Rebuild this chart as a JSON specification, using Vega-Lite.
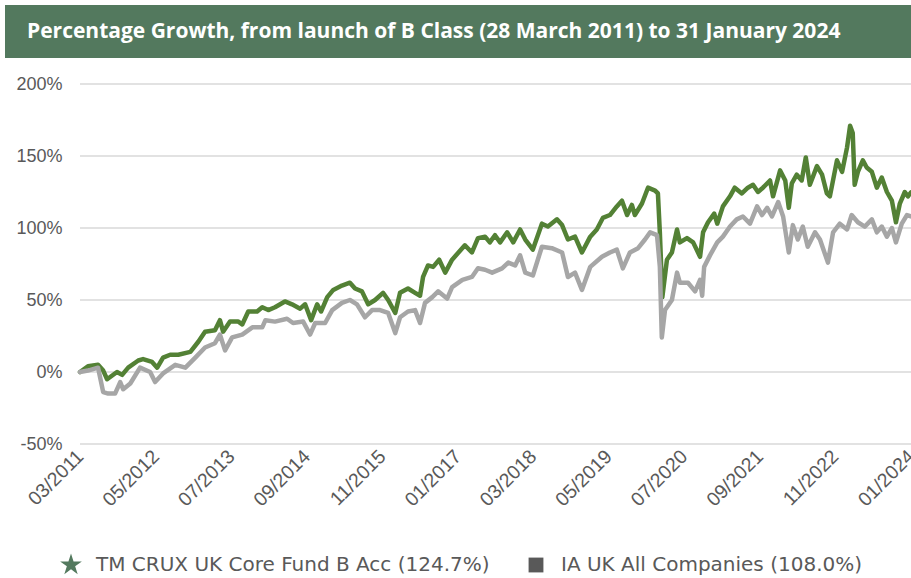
{
  "$schema": "https://vega.github.io/schema/vega-lite/v6.json",
  "padding": {"left": 5, "top": 5, "right": 0, "bottom": 0},
  "background": "#ffffff",
  "spacing": 17,
  "config": {
    "view": {"stroke": null},
    "axisX": {"title": null, "format": "%m/%Y", "labelAngle": -45, "labelAlign": "right", "labelBaseline": "middle", "labelFlush": false, "labelOverlap": false, "domain": false, "ticks": false, "grid": false, "labelFont": "Liberation Sans", "labelFontSize": 19.5, "labelColor": "#595959", "labelPadding": 9},
    "axisY": {"title": null, "labelExpr": "datum.value + '%'", "offset": -75, "domain": false, "ticks": false, "tickSize": 0, "grid": false, "labelFont": "Liberation Sans", "labelFontSize": 18, "labelColor": "#595959", "labelPadding": 18}
  },
  "vconcat": [
    {
      "width": 906,
      "height": 53,
      "view": {"fill": "#53795E", "stroke": null},
      "data": {"values": [{"t": "Percentage Growth, from launch of B Class (28 March 2011) to 31 January 2024"}]},
      "mark": {"type": "text", "align": "left", "baseline": "middle", "color": "#FFFFFF", "font": "Open Sans", "fontSize": 21, "fontWeight": "bold"},
      "encoding": {"text": {"field": "t"}, "x": {"value": 22}, "y": {"value": 27}}
    },
    {
      "width": 906,
      "height": 360,
      "data": {"values": [
        {"d":"2011-03-28","s":"TM","v":0},{"d":"2011-05-12","s":"TM","v":4},{"d":"2011-07-08","s":"TM","v":5},{"d":"2011-08-06","s":"TM","v":1},{"d":"2011-08-28","s":"TM","v":-5},{"d":"2011-10-23","s":"TM","v":0},{"d":"2011-11-21","s":"TM","v":-2},{"d":"2011-12-25","s":"TM","v":3},{"d":"2012-02-20","s":"TM","v":8},{"d":"2012-03-18","s":"TM","v":9},{"d":"2012-05-08","s":"TM","v":7},{"d":"2012-06-06","s":"TM","v":3},{"d":"2012-07-09","s":"TM","v":10},{"d":"2012-08-18","s":"TM","v":12},{"d":"2012-10-03","s":"TM","v":12},{"d":"2012-12-10","s":"TM","v":14},{"d":"2013-01-24","s":"TM","v":21},{"d":"2013-03-03","s":"TM","v":28},{"d":"2013-04-28","s":"TM","v":29},{"d":"2013-05-26","s":"TM","v":36},{"d":"2013-06-13","s":"TM","v":28},{"d":"2013-07-22","s":"TM","v":35},{"d":"2013-09-07","s":"TM","v":35},{"d":"2013-09-29","s":"TM","v":33},{"d":"2013-11-02","s":"TM","v":42},{"d":"2013-12-22","s":"TM","v":42},{"d":"2014-01-20","s":"TM","v":45},{"d":"2014-02-23","s":"TM","v":43},{"d":"2014-04-02","s":"TM","v":45},{"d":"2014-05-28","s":"TM","v":49},{"d":"2014-07-07","s":"TM","v":47},{"d":"2014-08-22","s":"TM","v":44},{"d":"2014-09-19","s":"TM","v":47},{"d":"2014-10-23","s":"TM","v":36},{"d":"2014-11-26","s":"TM","v":47},{"d":"2014-12-18","s":"TM","v":42},{"d":"2015-01-22","s":"TM","v":52},{"d":"2015-02-25","s":"TM","v":57},{"d":"2015-04-15","s":"TM","v":60},{"d":"2015-05-30","s":"TM","v":62},{"d":"2015-06-28","s":"TM","v":58},{"d":"2015-08-06","s":"TM","v":56},{"d":"2015-09-10","s":"TM","v":47},{"d":"2015-10-19","s":"TM","v":50},{"d":"2015-12-03","s":"TM","v":55},{"d":"2016-01-01","s":"TM","v":50},{"d":"2016-02-10","s":"TM","v":41},{"d":"2016-03-08","s":"TM","v":55},{"d":"2016-04-22","s":"TM","v":58},{"d":"2016-06-01","s":"TM","v":55},{"d":"2016-06-29","s":"TM","v":53},{"d":"2016-07-16","s":"TM","v":66},{"d":"2016-08-13","s":"TM","v":74},{"d":"2016-09-11","s":"TM","v":73},{"d":"2016-10-15","s":"TM","v":78},{"d":"2016-11-18","s":"TM","v":69},{"d":"2016-12-27","s":"TM","v":78},{"d":"2017-02-01","s":"TM","v":83},{"d":"2017-03-09","s":"TM","v":88},{"d":"2017-04-18","s":"TM","v":83},{"d":"2017-05-22","s":"TM","v":93},{"d":"2017-07-01","s":"TM","v":94},{"d":"2017-07-28","s":"TM","v":90},{"d":"2017-08-26","s":"TM","v":95},{"d":"2017-09-24","s":"TM","v":90},{"d":"2017-11-03","s":"TM","v":97},{"d":"2017-12-07","s":"TM","v":90},{"d":"2018-01-15","s":"TM","v":99},{"d":"2018-02-13","s":"TM","v":92},{"d":"2018-03-28","s":"TM","v":85},{"d":"2018-05-18","s":"TM","v":103},{"d":"2018-06-21","s":"TM","v":101},{"d":"2018-08-11","s":"TM","v":106},{"d":"2018-09-09","s":"TM","v":102},{"d":"2018-10-12","s":"TM","v":92},{"d":"2018-11-21","s":"TM","v":94},{"d":"2018-12-30","s":"TM","v":83},{"d":"2019-02-15","s":"TM","v":94},{"d":"2019-03-24","s":"TM","v":99},{"d":"2019-04-27","s":"TM","v":107},{"d":"2019-06-06","s":"TM","v":109},{"d":"2019-07-15","s":"TM","v":115},{"d":"2019-08-13","s":"TM","v":119},{"d":"2019-09-11","s":"TM","v":109},{"d":"2019-10-08","s":"TM","v":116},{"d":"2019-10-25","s":"TM","v":109},{"d":"2019-12-04","s":"TM","v":117},{"d":"2020-01-07","s":"TM","v":128},{"d":"2020-02-16","s":"TM","v":126},{"d":"2020-03-03","s":"TM","v":124},{"d":"2020-03-14","s":"TM","v":97},{"d":"2020-03-28","s":"TM","v":52},{"d":"2020-04-23","s":"TM","v":78},{"d":"2020-05-21","s":"TM","v":83},{"d":"2020-06-19","s":"TM","v":99},{"d":"2020-07-05","s":"TM","v":90},{"d":"2020-08-14","s":"TM","v":93},{"d":"2020-09-18","s":"TM","v":90},{"d":"2020-10-27","s":"TM","v":80},{"d":"2020-11-13","s":"TM","v":97},{"d":"2020-12-11","s":"TM","v":104},{"d":"2021-01-15","s":"TM","v":110},{"d":"2021-02-01","s":"TM","v":103},{"d":"2021-03-05","s":"TM","v":115},{"d":"2021-04-14","s":"TM","v":122},{"d":"2021-05-11","s":"TM","v":128},{"d":"2021-06-20","s":"TM","v":124},{"d":"2021-07-24","s":"TM","v":128},{"d":"2021-08-22","s":"TM","v":130},{"d":"2021-09-19","s":"TM","v":125},{"d":"2021-10-17","s":"TM","v":128},{"d":"2021-11-26","s":"TM","v":133},{"d":"2021-12-13","s":"TM","v":122},{"d":"2022-01-22","s":"TM","v":140},{"d":"2022-02-20","s":"TM","v":133},{"d":"2022-03-12","s":"TM","v":114},{"d":"2022-03-29","s":"TM","v":131},{"d":"2022-04-26","s":"TM","v":137},{"d":"2022-05-24","s":"TM","v":133},{"d":"2022-06-16","s":"TM","v":149},{"d":"2022-07-09","s":"TM","v":130},{"d":"2022-08-18","s":"TM","v":143},{"d":"2022-09-16","s":"TM","v":137},{"d":"2022-10-13","s":"TM","v":124},{"d":"2022-10-30","s":"TM","v":122},{"d":"2022-12-09","s":"TM","v":147},{"d":"2023-01-07","s":"TM","v":139},{"d":"2023-02-04","s":"TM","v":156},{"d":"2023-02-21","s":"TM","v":171},{"d":"2023-03-08","s":"TM","v":166},{"d":"2023-03-19","s":"TM","v":130},{"d":"2023-04-06","s":"TM","v":139},{"d":"2023-05-04","s":"TM","v":147},{"d":"2023-05-26","s":"TM","v":142},{"d":"2023-06-24","s":"TM","v":139},{"d":"2023-07-22","s":"TM","v":128},{"d":"2023-08-19","s":"TM","v":135},{"d":"2023-09-17","s":"TM","v":125},{"d":"2023-10-15","s":"TM","v":119},{"d":"2023-11-07","s":"TM","v":104},{"d":"2023-11-29","s":"TM","v":117},{"d":"2023-12-27","s":"TM","v":125},{"d":"2024-01-14","s":"TM","v":122},{"d":"2024-01-31","s":"TM","v":124.7},
        {"d":"2011-03-28","s":"IA","v":0},{"d":"2011-05-12","s":"IA","v":1},{"d":"2011-07-08","s":"IA","v":3},{"d":"2011-08-06","s":"IA","v":-14},{"d":"2011-09-03","s":"IA","v":-15},{"d":"2011-10-12","s":"IA","v":-15},{"d":"2011-11-10","s":"IA","v":-7},{"d":"2011-11-27","s":"IA","v":-12},{"d":"2012-01-06","s":"IA","v":-8},{"d":"2012-03-01","s":"IA","v":3},{"d":"2012-04-27","s":"IA","v":0},{"d":"2012-05-25","s":"IA","v":-7},{"d":"2012-07-09","s":"IA","v":-1},{"d":"2012-09-16","s":"IA","v":5},{"d":"2012-11-12","s":"IA","v":3},{"d":"2013-01-07","s":"IA","v":10},{"d":"2013-03-03","s":"IA","v":17},{"d":"2013-04-28","s":"IA","v":20},{"d":"2013-05-26","s":"IA","v":26},{"d":"2013-06-24","s":"IA","v":15},{"d":"2013-08-03","s":"IA","v":24},{"d":"2013-09-29","s":"IA","v":26},{"d":"2013-11-25","s":"IA","v":31},{"d":"2014-01-20","s":"IA","v":31},{"d":"2014-02-07","s":"IA","v":36},{"d":"2014-04-02","s":"IA","v":35},{"d":"2014-06-09","s":"IA","v":37},{"d":"2014-07-13","s":"IA","v":34},{"d":"2014-09-08","s":"IA","v":35},{"d":"2014-10-17","s":"IA","v":26},{"d":"2014-11-15","s":"IA","v":34},{"d":"2015-01-10","s":"IA","v":34},{"d":"2015-02-19","s":"IA","v":43},{"d":"2015-04-15","s":"IA","v":48},{"d":"2015-05-30","s":"IA","v":50},{"d":"2015-07-09","s":"IA","v":47},{"d":"2015-08-23","s":"IA","v":38},{"d":"2015-10-02","s":"IA","v":43},{"d":"2015-11-16","s":"IA","v":43},{"d":"2016-01-01","s":"IA","v":41},{"d":"2016-02-10","s":"IA","v":27},{"d":"2016-03-08","s":"IA","v":38},{"d":"2016-04-22","s":"IA","v":42},{"d":"2016-06-01","s":"IA","v":43},{"d":"2016-06-29","s":"IA","v":34},{"d":"2016-07-27","s":"IA","v":48},{"d":"2016-09-06","s":"IA","v":52},{"d":"2016-10-09","s":"IA","v":56},{"d":"2016-11-29","s":"IA","v":51},{"d":"2016-12-27","s":"IA","v":59},{"d":"2017-02-23","s":"IA","v":64},{"d":"2017-04-18","s":"IA","v":66},{"d":"2017-05-22","s":"IA","v":72},{"d":"2017-07-01","s":"IA","v":71},{"d":"2017-08-10","s":"IA","v":69},{"d":"2017-10-05","s":"IA","v":72},{"d":"2017-11-09","s":"IA","v":76},{"d":"2017-12-18","s":"IA","v":74},{"d":"2018-01-15","s":"IA","v":81},{"d":"2018-02-13","s":"IA","v":69},{"d":"2018-03-28","s":"IA","v":67},{"d":"2018-05-18","s":"IA","v":87},{"d":"2018-07-13","s":"IA","v":86},{"d":"2018-09-09","s":"IA","v":83},{"d":"2018-10-12","s":"IA","v":66},{"d":"2018-11-21","s":"IA","v":69},{"d":"2018-12-30","s":"IA","v":57},{"d":"2019-02-15","s":"IA","v":73},{"d":"2019-04-22","s":"IA","v":80},{"d":"2019-06-06","s":"IA","v":83},{"d":"2019-07-15","s":"IA","v":85},{"d":"2019-08-18","s":"IA","v":72},{"d":"2019-09-27","s":"IA","v":83},{"d":"2019-11-12","s":"IA","v":86},{"d":"2019-12-21","s":"IA","v":92},{"d":"2020-01-19","s":"IA","v":97},{"d":"2020-02-27","s":"IA","v":95},{"d":"2020-03-14","s":"IA","v":73},{"d":"2020-03-25","s":"IA","v":24},{"d":"2020-04-12","s":"IA","v":43},{"d":"2020-05-21","s":"IA","v":50},{"d":"2020-06-19","s":"IA","v":69},{"d":"2020-07-05","s":"IA","v":62},{"d":"2020-08-20","s":"IA","v":62},{"d":"2020-09-29","s":"IA","v":56},{"d":"2020-10-27","s":"IA","v":64},{"d":"2020-11-08","s":"IA","v":53},{"d":"2020-11-19","s":"IA","v":73},{"d":"2020-12-22","s":"IA","v":81},{"d":"2021-02-01","s":"IA","v":90},{"d":"2021-03-05","s":"IA","v":94},{"d":"2021-04-14","s":"IA","v":101},{"d":"2021-05-22","s":"IA","v":106},{"d":"2021-06-26","s":"IA","v":108},{"d":"2021-08-05","s":"IA","v":103},{"d":"2021-09-14","s":"IA","v":115},{"d":"2021-10-12","s":"IA","v":109},{"d":"2021-11-10","s":"IA","v":114},{"d":"2021-12-07","s":"IA","v":108},{"d":"2022-01-11","s":"IA","v":118},{"d":"2022-02-08","s":"IA","v":108},{"d":"2022-03-12","s":"IA","v":83},{"d":"2022-04-04","s":"IA","v":102},{"d":"2022-05-02","s":"IA","v":92},{"d":"2022-05-30","s":"IA","v":101},{"d":"2022-06-27","s":"IA","v":87},{"d":"2022-08-07","s":"IA","v":97},{"d":"2022-09-04","s":"IA","v":92},{"d":"2022-10-19","s":"IA","v":76},{"d":"2022-11-17","s":"IA","v":97},{"d":"2022-12-25","s":"IA","v":103},{"d":"2023-02-04","s":"IA","v":99},{"d":"2023-03-02","s":"IA","v":109},{"d":"2023-04-06","s":"IA","v":104},{"d":"2023-05-15","s":"IA","v":101},{"d":"2023-06-24","s":"IA","v":106},{"d":"2023-07-22","s":"IA","v":97},{"d":"2023-08-19","s":"IA","v":101},{"d":"2023-09-17","s":"IA","v":94},{"d":"2023-10-15","s":"IA","v":100},{"d":"2023-11-07","s":"IA","v":90},{"d":"2023-12-10","s":"IA","v":103},{"d":"2024-01-08","s":"IA","v":109},{"d":"2024-01-31","s":"IA","v":108}
      ]},
      "layer": [
        {
          "data": {"values": [{"g": -50}, {"g": 0}, {"g": 50}, {"g": 100}, {"g": 150}, {"g": 200}]},
          "mark": {"type": "rule", "color": "#D9D9D9", "strokeWidth": 1.5},
          "encoding": {
            "y": {"field": "g", "type": "quantitative", "title": null, "scale": {"domain": [-50, 200], "nice": false}, "axis": {"values": [-50, 0, 50, 100, 150, 200]}},
            "x": {"datum": {"year": 2011, "month": 3, "date": 28}, "type": "temporal", "title": null,
              "scale": {"domain": [{"year": 2011, "month": 3, "date": 28}, {"year": 2024, "month": 1, "date": 31}], "nice": false, "range": [75, 906]},
              "axis": {"values": [{"year":2011,"month":3,"date":28},{"year":2012,"month":5,"date":28},{"year":2013,"month":7,"date":28},{"year":2014,"month":9,"date":28},{"year":2015,"month":11,"date":28},{"year":2017,"month":1,"date":28},{"year":2018,"month":3,"date":28},{"year":2019,"month":5,"date":28},{"year":2020,"month":7,"date":28},{"year":2021,"month":9,"date":28},{"year":2022,"month":11,"date":28},{"year":2024,"month":1,"date":31}]}},
            "x2": {"datum": {"year": 2024, "month": 1, "date": 31}}
          }
        },
        {
          "transform": [{"filter": "datum.s === 'TM'"}],
          "mark": {"type": "line", "strokeWidth": 4.5, "strokeJoin": "round", "strokeCap": "round"},
          "encoding": {
            "x": {"field": "d", "type": "temporal", "title": null},
            "y": {"field": "v", "type": "quantitative", "title": null},
            "color": {
              "field": "s", "type": "nominal",
              "scale": {"domain": ["TM", "IA"], "range": ["#538135", "#A6A6A6"]},
              "legend": {
                "orient": "none", "legendX": 56, "legendY": 550, "direction": "horizontal", "title": null,
                "labelExpr": "datum.value === 'TM' ? 'TM CRUX UK Core Fund B Acc (124.7%)' : 'IA UK All Companies (108.0%)'",
                "labelFont": "DejaVu Sans", "labelFontSize": 20, "labelColor": "#595959", "labelLimit": 800,
                "labelOffset": 15, "columnPadding": 36, "symbolSize": 250,
                "encode": {
                  "symbols": {
                    "update": {
                      "shape": {"signal": "datum.value === 'TM' ? 'M0,-1L0.2245,-0.309L0.9511,-0.309L0.3633,0.118L0.5878,0.809L0,0.382L-0.5878,0.809L-0.3633,0.118L-0.9511,-0.309L-0.2245,-0.309Z' : 'square'"},
                      "fill": {"signal": "datum.value === 'TM' ? '#53795E' : '#595959'"},
                      "stroke": {"value": "transparent"},
                      "strokeWidth": {"value": 0},
                      "size": {"signal": "datum.value === 'TM' ? 520 : 220"},
                      "opacity": {"value": 1}
                    }
                  }
                }
              }
            }
          }
        },
        {
          "transform": [{"filter": "datum.s === 'IA'"}],
          "mark": {"type": "line", "strokeWidth": 4.5, "strokeJoin": "round", "strokeCap": "round"},
          "encoding": {
            "x": {"field": "d", "type": "temporal", "title": null},
            "y": {"field": "v", "type": "quantitative", "title": null},
            "color": {"field": "s", "type": "nominal"}
          }
        }
      ]
    }
  ]
}
